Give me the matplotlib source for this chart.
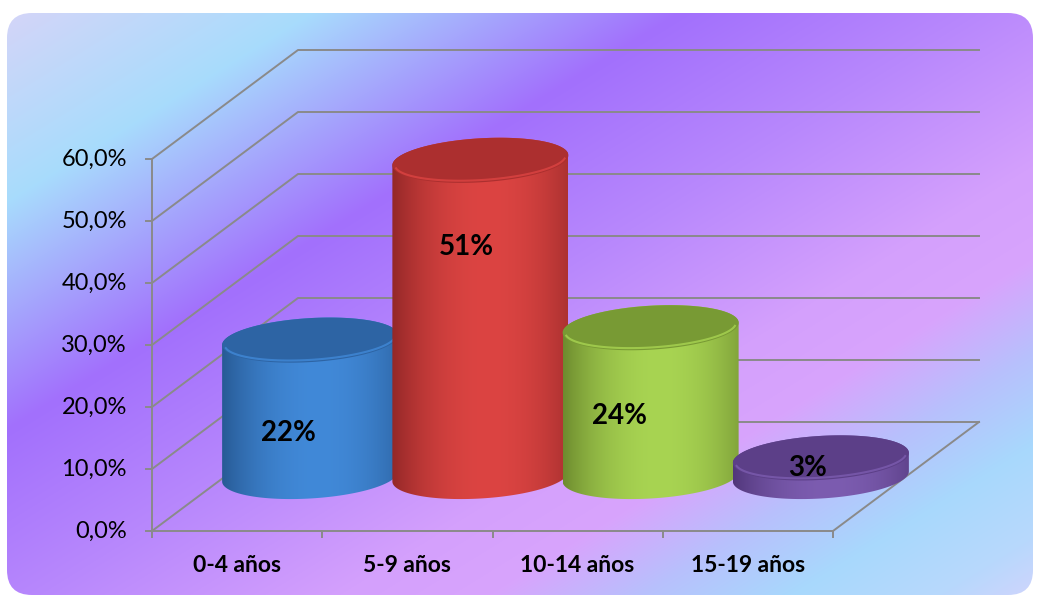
import numpy as np
import matplotlib
matplotlib.use('Agg')
import matplotlib.pyplot as plt
from matplotlib.patches import Polygon, FancyBboxPatch
from matplotlib.colors import to_rgb

# data
categories = ['0-4 años', '5-9 años', '10-14 años', '15-19 años']
values = [22, 51, 24, 3]
value_labels = ['22%', '51%', '24%', '3%']
y_ticks = [0, 10, 20, 30, 40, 50, 60]
y_tick_labels = ['0,0%', '10,0%', '20,0%', '30,0%', '40,0%', '50,0%', '60,0%']

# styling
side_edge = ['#24548c', '#8a2424', '#66822a', '#4c3274']
side_light = ['#4189d8', '#dc4442', '#a8d452', '#7c5cb0']
cap_color = ['#2d64a4', '#ac2f2f', '#789a34', '#5c3f88']
label_pos = [(-0.13, 7.0), (-0.08, 37.0), (-0.18, 9.7), (-0.08, 1.3)]
FONT = ['Lato', 'DejaVu Sans']
GRID = '#8a8a8a'

W, H = 1037, 596
fig = plt.figure(figsize=(W / 100, H / 100), dpi=100)

# background panel with diagonal gradient
bg = fig.add_axes([0, 0, 1, 1])
bg.axis('off')
stops_s = [0, 330, 700, 1000, 1300, 1450, 1600, 1750, 1900, 2000]
stops_c = ['#d8d4f8', '#a8dcfc', '#a270fd', '#b888fc', '#d4a0fc',
           '#d8a4fc', '#b8c0fc', '#a8d8fc', '#b8d8fc', '#d0d4fc']
yy, xx = np.mgrid[0:H, 0:W]
s = xx + 1.615 * yy
rgb = np.array([to_rgb(c) for c in stops_c])
img = np.stack([np.interp(s, stops_s, rgb[:, k]) for k in range(3)], axis=-1)
panel = FancyBboxPatch((7, 13), 1026, 582, boxstyle='round,pad=0,rounding_size=25',
                       facecolor='none', edgecolor='none')
bg.add_patch(panel)
im = bg.imshow(img, extent=[0, W, H, 0], aspect='auto', interpolation='bilinear')
im.set_clip_path(panel)
bg.set_xlim(0, W)
bg.set_ylim(H, 0)

# main axes: x in category units, y in percent
ax = fig.add_axes([0, 0, 1, 1])
ax.patch.set_alpha(0)
ax.axis('off')
px_c = (833 - 152) / 4
px_v = (531 - 159) / 60
DX = 146 / px_c
DY = 109 / px_v
n = len(categories)

lw = 1.4
for v, lab in zip(y_ticks, y_tick_labels):
    ax.plot([0, DX, n + DX], [v, v + DY, v + DY], color=GRID, lw=lw, zorder=1)
    ax.plot([-6 / px_c, 0], [v, v], color=GRID, lw=lw, zorder=1)
    ax.text(-25 / px_c, v, lab, ha='right', va='center',
            fontsize=17, family=FONT, color='black')
ax.plot([0, 0], [0, y_ticks[-1]], color=GRID, lw=lw, zorder=1)
ax.plot([0, n, n + DX], [0, 0, DY], color=GRID, lw=lw, zorder=1)
for i in range(n + 1):
    ax.plot([i, i], [0, -6 / px_v], color=GRID, lw=lw, zorder=1)
for i, c in enumerate(categories):
    ax.text(i + 0.5, -35 / px_v, c, ha='center', va='center', fontsize=16.5,
            fontweight='bold', family=FONT)

# cylinders
A = 88 / px_c
B = 22 / px_v
S = 5 / px_v
for i, v in enumerate(values):
    cx = i + 0.5 + DX / 2
    cy = DY / 2
    top = cy + v
    tb = np.linspace(np.pi, 2 * np.pi, 80)
    tt = np.linspace(0, np.pi, 80)
    hx = np.concatenate([cx + A * np.cos(tb), cx + A * np.cos(tt)])
    hy = np.concatenate([cy + B * np.sin(tb) + S * np.cos(tb),
                         top + B * np.sin(tt) + S * np.cos(tt)])
    body = Polygon(np.column_stack([hx, hy]), closed=True, facecolor='none',
                   edgecolor='none', zorder=2 + i * 3)
    ax.add_patch(body)
    u = np.linspace(-1, 1, 300)
    w = np.clip(1 - ((u - 0.1) / 1.15) ** 2, 0, 1) ** 0.9
    e, l = np.array(to_rgb(side_edge[i])), np.array(to_rgb(side_light[i]))
    grad = (e[None, :] + (l - e)[None, :] * w[:, None])[None, :, :]
    sim = ax.imshow(grad, extent=[cx - A, cx + A, cy - B - S - 1, top + B + S + 1],
                    aspect='auto', interpolation='bilinear', zorder=2 + i * 3)
    sim.set_clip_path(body)
    ta = np.linspace(0, 2 * np.pi, 160)
    ax.fill(cx + A * np.cos(ta), top + B * np.sin(ta) + S * np.cos(ta),
            color=cap_color[i], lw=0, zorder=3 + i * 3)
    tr = np.linspace(np.pi * 1.05, np.pi * 1.95, 80)
    ax.plot(cx + 0.97 * A * np.cos(tr), top + 0.9 * B * np.sin(tr) + S * np.cos(tr),
            color=side_light[i], lw=1.5, alpha=0.8, zorder=4 + i * 3)
    dx, dy = label_pos[i]
    ax.text(cx + dx, cy + dy, value_labels[i], ha='center', va='center', fontsize=20,
            fontweight='bold', family=FONT, color='black', zorder=20)

ax.set_aspect('auto')
ax.set_xlim(-152 / px_c, (W - 152) / px_c)
ax.set_ylim(-(H - 531) / px_v, 531 / px_v)

fig.savefig('out.png', dpi=100)
